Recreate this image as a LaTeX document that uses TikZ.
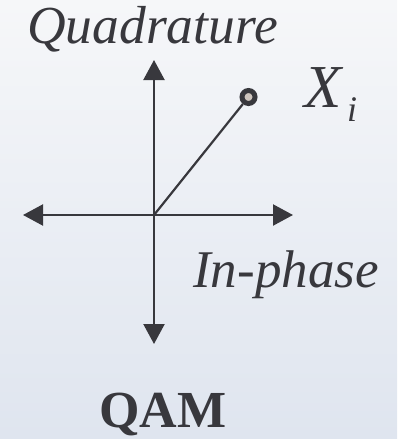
\documentclass[tikz,border=0pt]{standalone}
\usepackage{fontspec}
\setmainfont{Liberation Serif}
\usetikzlibrary{arrows.meta}
\definecolor{ink}{RGB}{56,56,61}
\definecolor{bgtop}{RGB}{246,247,249}
\definecolor{bgbot}{RGB}{223,229,239}
\definecolor{dotfill}{RGB}{206,197,190}
\tikzset{
  axis/.style={draw=ink, line width=2.2pt, {Triangle[width=21pt,length=20pt]}-{Triangle[width=21pt,length=20pt]}},
  lbl/.style={inner sep=0pt, anchor=base west, text=ink},
  pointdot/.style={circle, draw=ink, line width=5pt, fill=dotfill, minimum size=13pt, inner sep=0pt},
}
\begin{document}
\begin{tikzpicture}[x=1pt,y=-1pt]
\shade[top color=bgtop, bottom color=bgbot] (0,0) rectangle (397,439);
\useasboundingbox (0,0) rectangle (397,439);
\coordinate (O) at (154,215);
\coordinate (top) at (154,60);
\coordinate (bot) at (154,344);
\coordinate (lft) at (23,215);
\coordinate (rgt) at (293,215);
\draw[axis] (top) -- (bot);
\draw[axis] (lft) -- (rgt);
\node[pointdot] (P) at (248.5,97) {};
\draw[ink, line width=2.2pt] (O) -- (P);
\node[lbl] (quad) at (27,43) {\fontsize{53.5}{53.5}\selectfont\itshape Quadrature};
\node[lbl] (X) at (304,107) {\fontsize{61}{61}\selectfont\itshape X};
\node[lbl] (i) at (347,121) {\fontsize{36}{36}\selectfont\itshape i};
\node[lbl] (inph) at (193,287) {\fontsize{53}{53}\selectfont\itshape In-phase};
\node[lbl] (qam) at (99,427) {\fontsize{52}{52}\selectfont\bfseries QAM};
\end{tikzpicture}
\end{document}
